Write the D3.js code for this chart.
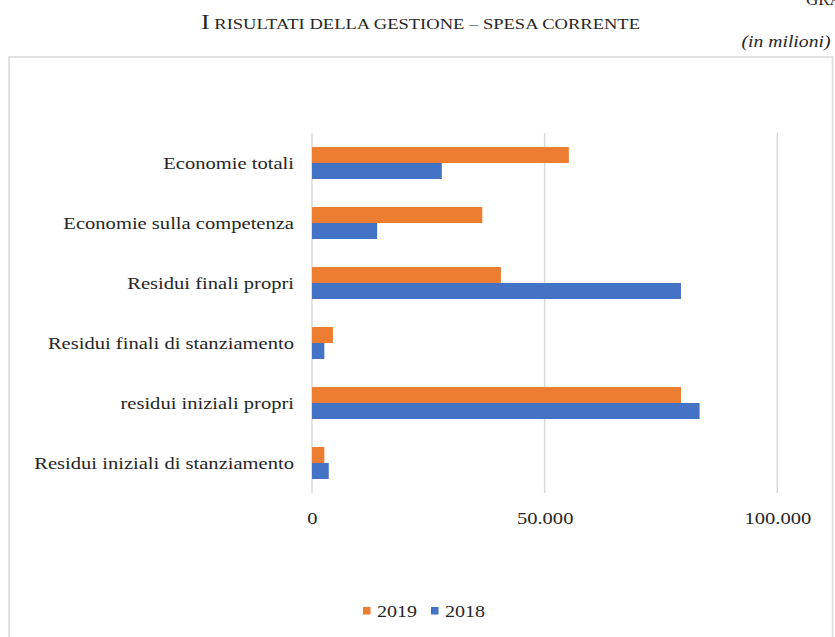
<!DOCTYPE html>
<html>
<head>
<meta charset="utf-8">
<script src="https://cdn.jsdelivr.net/npm/d3@7"></script>
<style>
  html, body { margin: 0; padding: 0; background: #fff; }
  svg { display: block; }
  text { font-family: "Liberation Serif", "Times New Roman", serif; fill: #262626; }
</style>
</head>
<body>
<svg id="chart" width="835" height="637"></svg>
<script>
// Voci della spesa corrente (dall'alto verso il basso)
const categories = [
  "Economie totali",
  "Economie sulla competenza",
  "Residui finali propri",
  "Residui finali di stanziamento",
  "residui iniziali propri",
  "Residui iniziali di stanziamento"
];
const seriesNames = ["2019", "2018"];
const values2019 = [55200, 36600, 40600, 4500, 79300, 2650];
const values2018 = [27900, 14000, 79300, 2650, 83300, 3600];
const tickValues = [0, 50000, 100000];
const colors = { "2019": "#ED7D31", "2018": "#4472C4" };

const svg = d3.select("#chart");
const wide = 1.21; // caratteri leggermente allargati

// Titolo e intestazioni
svg.append("text").attr("x", 806).attr("y", 5).attr("font-size", 17).text("GRAFICO 1");

const title = svg.append("text").attr("x", 201).attr("y", 29).attr("font-size", 15)
  .attr("textLength", 439).attr("lengthAdjust", "spacingAndGlyphs");
title.append("tspan").attr("font-size", 21).text("I");
title.append("tspan").text(" RISULTATI DELLA GESTIONE – SPESA CORRENTE");

svg.append("text").attr("x", 741.5).attr("y", 47).attr("font-size", 17).attr("font-style", "italic")
  .attr("textLength", 89).attr("lengthAdjust", "spacingAndGlyphs").text("(in milioni)");

// Riquadro del grafico
svg.append("rect").attr("x", 9).attr("y", 57).attr("width", 823.5).attr("height", 600)
  .attr("fill", "none").attr("stroke", "#d9d9d9").attr("stroke-width", 1.5);

const x = d3.scaleLinear().domain([0, 100000]).range([312, 777.3]);
const y = d3.scaleBand().domain(categories).range([133, 493]).paddingInner(0.4667).paddingOuter(0.2333);
const ySub = d3.scaleBand().domain(seriesNames).range([0, y.bandwidth()]);

// Griglia verticale
svg.append("g").selectAll("line").data(tickValues).join("line")
  .attr("x1", d => x(d)).attr("x2", d => x(d))
  .attr("y1", 133).attr("y2", 493)
  .attr("stroke", "#d9d9d9").attr("stroke-width", 1.5);

// Etichette asse X
const fmt = d => d === 0 ? "0" : d3.format(",")(d).replace(/,/g, ".");
const xAxis = d3.axisBottom(x).tickValues(tickValues).tickFormat(fmt).tickSize(0).tickPadding(0);
const gx = svg.append("g").attr("transform", "translate(0,524)").call(xAxis);
gx.select(".domain").remove();
gx.selectAll("text").attr("font-size", 17).attr("fill", "#262626")
  .attr("dy", 0).attr("y", 0).attr("transform", `scale(${wide},1)`);

// Etichette categorie
const yAxis = d3.axisLeft(y).tickSize(0).tickPadding(0);
const gy = svg.append("g").attr("transform", "translate(294,0)").call(yAxis);
gy.select(".domain").remove();
gy.selectAll("text").attr("font-size", 17).attr("fill", "#262626")
  .attr("dy", "0.38em").attr("transform", `scale(${wide},1)`);
gx.attr("font-family", null); gy.attr("font-family", null);

// Barre
const rows = categories.map((c, i) => ({ cat: c, "2019": values2019[i], "2018": values2018[i] }));
const groups = svg.append("g").selectAll("g").data(rows).join("g")
  .attr("transform", d => `translate(0,${y(d.cat)})`);
groups.selectAll("rect").data(d => seriesNames.map(s => ({ s, v: d[s] }))).join("rect")
  .attr("x", x(0))
  .attr("y", d => ySub(d.s))
  .attr("width", d => x(d.v) - x(0))
  .attr("height", ySub.bandwidth())
  .attr("fill", d => colors[d.s]);

// Legenda
const items = [{ s: "2019", x: 363 }, { s: "2018", x: 431 }];
items.forEach(it => {
  svg.append("rect").attr("x", it.x).attr("y", 607).attr("width", 7.5).attr("height", 7.5).attr("fill", colors[it.s]);
  svg.append("text").attr("x", it.x + 14).attr("y", 617).attr("font-size", 17)
    .attr("textLength", 40).attr("lengthAdjust", "spacingAndGlyphs").text(it.s);
});
</script>
</body>
</html>
